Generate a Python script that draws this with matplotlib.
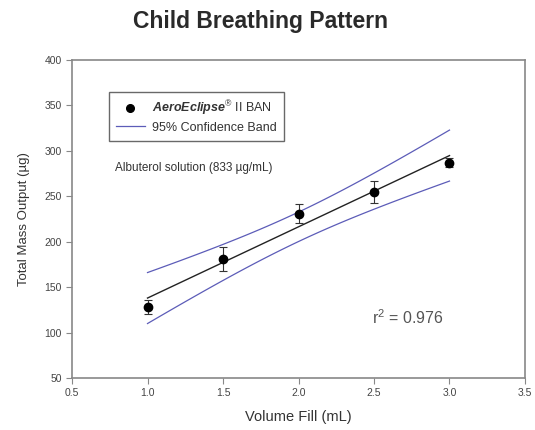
import numpy as np
import matplotlib
matplotlib.use("Agg")
import matplotlib.pyplot as plt
from matplotlib.lines import Line2D

plt.rcParams['font.family'] = ['Liberation Sans', 'DejaVu Sans']
plt.rcParams['mathtext.fontset'] = 'custom'
plt.rcParams['mathtext.rm'] = 'Liberation Sans'
plt.rcParams['mathtext.it'] = 'Liberation Sans:italic'
plt.rcParams['mathtext.bf'] = 'Liberation Sans:bold'
plt.rcParams['mathtext.bfit'] = 'Liberation Sans:italic:bold'

# data
volume_fill = [1.0, 1.5, 2.0, 2.5, 3.0]
mass_output = [128, 181, 231, 255, 287]
mass_sd = [8, 13, 10, 12, 5]
x_ticks = [0.5, 1.0, 1.5, 2.0, 2.5, 3.0, 3.5]
y_ticks = [50, 100, 150, 200, 250, 300, 350, 400]
r2_label = '0.976'

x = np.array(volume_fill)
y = np.array(mass_output)

# linear fit + 95% confidence band for the mean
n = len(x)
slope, intercept = np.polyfit(x, y, 1)
fit = slope * x + intercept
s = np.sqrt(np.sum((y - fit) ** 2) / (n - 2))
t_crit = 3.182  # t(0.975, df=3)
xs = np.linspace(x.min(), x.max(), 100)
ys = slope * xs + intercept
half = t_crit * s * np.sqrt(1 / n + (xs - x.mean()) ** 2 / np.sum((x - x.mean()) ** 2))

fig = plt.figure(figsize=(5.35, 4.3), dpi=100)
ax = fig.add_axes([0.1346, 0.1209, 0.8467, 0.7396])

band_color = '#5c5cb8'
ax.plot(xs, ys + half, color=band_color, lw=0.9)
ax.plot(xs, ys - half, color=band_color, lw=0.9)
ax.plot(xs, ys, color='#222222', lw=1.0)
ax.errorbar(x, y, yerr=mass_sd, fmt='o', color='black', ms=6,
            ecolor='#333333', elinewidth=0.8, capsize=3, capthick=0.8)

ax.set_xlim(0.5, 3.5)
ax.set_ylim(50, 400)
ax.set_xticks(x_ticks)
ax.set_yticks(y_ticks)
ax.set_xticklabels([f'{t:.1f}' for t in x_ticks])
ax.tick_params(direction='out', length=4, width=0.8, labelsize=7.5,
               colors='#888888', labelcolor='#444444')
for sp in ax.spines.values():
    sp.set_color('#888888')
    sp.set_linewidth(1.2)

ax.set_xlabel('Volume Fill (mL)', fontsize=10.5, color='#333333', labelpad=8)
ax.set_ylabel('Total Mass Output (µg)', fontsize=9.5, color='#333333', labelpad=10)

handles = [Line2D([], [], marker='o', ls='none', color='black', ms=5.5),
           Line2D([], [], color=band_color, lw=0.9)]
labels = [r'$\mathbfit{AeroEclipse}^{\circledR}$ II BAN', '95% Confidence Band']
leg = ax.legend(handles, labels, loc='upper left',
                bbox_to_anchor=(0.082, 0.899), borderaxespad=0, fontsize=9,
                frameon=True, fancybox=False, edgecolor='#444444',
                handlelength=2.3, handletextpad=0.6, borderpad=0.55,
                labelspacing=0.3)
leg.get_frame().set_linewidth(1.0)
for t in leg.get_texts():
    t.set_color('#333333')

ax.text(0.095, 0.66, 'Albuterol solution (833 µg/mL)', transform=ax.transAxes,
        fontsize=8.5, color='#333333', va='center')
ax.text(0.662, 0.189, f'r$^2$ = {r2_label}', transform=ax.transAxes,
        fontsize=11.5, color='#555555', va='center')

fig.text(0.487, 0.951, 'Child Breathing Pattern', ha='center', va='center',
         fontsize=16.5, fontweight='bold', color='#2a2a2a')

fig.savefig('out.png', dpi=100)
